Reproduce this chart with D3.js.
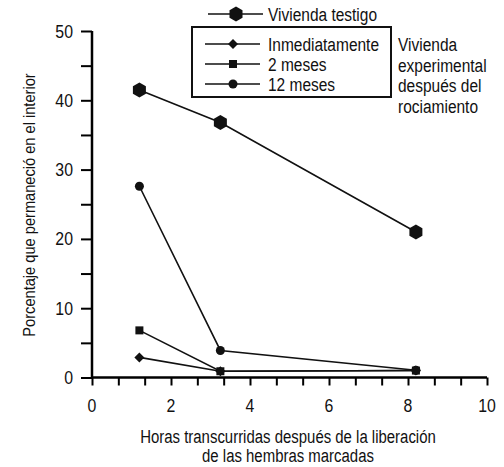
<!DOCTYPE html>
<html>
<head>
<meta charset="utf-8">
<script src="https://cdn.jsdelivr.net/npm/d3@7.9.0/dist/d3.min.js"></script>
<style>
  body { margin: 0; background: #fff; }
  svg text { font-family: "Liberation Sans", Arial, sans-serif; fill: #111; }
</style>
</head>
<body>
<svg id="chart" width="504" height="467"></svg>
<script>
const hours = [1.2, 3.25, 8.2];
const testigo = [41.5, 36.8, 21.0];
const inmediatamente = [2.9, 0.9, 1.0];
const dosMeses = [6.8, 0.9, 1.0];
const doceMeses = [27.6, 3.9, 1.05];

const xTickLabels = [0, 2, 4, 6, 8, 10];
const yTickLabels = [0, 10, 20, 30, 40, 50];

const series = [
  { name: "Vivienda testigo", values: testigo, symbol: "hexagon" },
  { name: "Inmediatamente", values: inmediatamente, symbol: "diamond" },
  { name: "2 meses", values: dosMeses, symbol: "square" },
  { name: "12 meses", values: doceMeses, symbol: "circle" }
];

const svg = d3.select("#chart");
const margin = { left: 92, right: 17, top: 31, bottom: 89.5 };
const width = 504 - margin.left - margin.right;
const height = 467 - margin.top - margin.bottom;
const g = svg.append("g").attr("transform", `translate(${margin.left},${margin.top})`);

const x = d3.scaleLinear().domain([0, 10]).range([0, width]);
const y = d3.scaleLinear().domain([0, 50]).range([height, 0]);

// the original uses a narrow Helvetica, so squeeze each text horizontally
function condense(sel, f) {
  sel.each(function () {
    const w = this.getComputedTextLength();
    d3.select(this).attr("textLength", w * f).attr("lengthAdjust", "spacingAndGlyphs");
  });
}

// x axis: minor ticks every 2/3 h, labels every 2
const xAxis = g.append("g").attr("transform", `translate(0,${height})`)
  .call(d3.axisBottom(x).tickValues(d3.range(0, 10.01, 2 / 3)).tickSize(8).tickFormat(""));
xAxis.select(".domain").attr("stroke-width", 2.5).attr("d", `M0,0H${width}`);
xAxis.selectAll(".tick line").attr("stroke-width", 2);
g.append("g").selectAll("text").data(xTickLabels).join("text")
  .attr("x", d => x(d)).attr("y", height + 34)
  .attr("text-anchor", "middle").attr("font-size", 18).text(d => d)
  .call(condense, 0.88);

const yAxis = g.append("g")
  .call(d3.axisLeft(y).tickValues(d3.range(0, 51, 5)).tickSize(11).tickFormat(""));
yAxis.select(".domain").attr("stroke-width", 2.5).attr("d", `M0,${height}V0`);
yAxis.selectAll(".tick line").attr("stroke-width", 2);
g.append("g").selectAll("text").data(yTickLabels).join("text")
  .attr("x", -19).attr("y", d => y(d) + 6.5)
  .attr("text-anchor", "end").attr("font-size", 18).text(d => d)
  .call(condense, 0.88);

function hexagonPath(r) {
  return d3.range(6).map(i => {
    const a = Math.PI / 6 + i * Math.PI / 3;
    return [r * Math.cos(a), r * Math.sin(a)];
  }).map((p, i) => (i ? "L" : "M") + p[0].toFixed(2) + "," + p[1].toFixed(2)).join("") + "Z";
}

function drawMarker(sel, symbol) {
  if (symbol === "hexagon") sel.append("path").attr("d", hexagonPath(7.5));
  else if (symbol === "diamond") sel.append("path").attr("d", "M0,-5L5,0L0,5L-5,0Z");
  else if (symbol === "square") sel.append("rect").attr("x", -4).attr("y", -4).attr("width", 8).attr("height", 8);
  else sel.append("circle").attr("r", 4.5);
}

const line = d3.line().x(d => x(d[0])).y(d => y(d[1]));

series.forEach(s => {
  const pts = hours.map((h, i) => [h, s.values[i]]);
  g.append("path").datum(pts)
    .attr("fill", "none").attr("stroke", "#111").attr("stroke-width", 1.6)
    .attr("d", line);
  pts.forEach(p => {
    const m = g.append("g").attr("transform", `translate(${x(p[0])},${y(p[1])})`).attr("fill", "#111");
    drawMarker(m, s.symbol);
  });
});

// legend
const legend = svg.append("g");
const legendRows = [
  { s: series[0], y: 14, x0: 208 },
  { s: series[1], y: 44, x0: 205 },
  { s: series[2], y: 64, x0: 205 },
  { s: series[3], y: 84, x0: 205 }
];
legend.append("rect")
  .attr("x", 192).attr("y", 27).attr("width", 199).attr("height", 70)
  .attr("fill", "none").attr("stroke", "#111").attr("stroke-width", 2);
legendRows.forEach(r => {
  legend.append("line").attr("x1", r.x0).attr("x2", r.x0 + 55).attr("y1", r.y).attr("y2", r.y)
    .attr("stroke", "#111").attr("stroke-width", 1.6);
  const m = legend.append("g").attr("transform", `translate(${r.x0 + 28},${r.y})`).attr("fill", "#111");
  drawMarker(m, r.s.symbol);
  legend.append("text").attr("x", 268).attr("y", r.y + 6.5).attr("font-size", 18).text(r.s.name)
    .call(condense, 0.86);
});
const sideText = ["Vivienda", "experimental", "después del", "rociamiento"];
legend.append("g").selectAll("text").data(sideText).join("text")
  .attr("x", 398).attr("y", (d, i) => 51 + i * 20.5).attr("font-size", 18).text(d => d)
  .call(condense, 0.86);

// axis titles
svg.append("text").attr("x", 288).attr("y", 443).attr("text-anchor", "middle").attr("font-size", 18)
  .text("Horas transcurridas después de la liberación").call(condense, 0.83);
svg.append("text").attr("x", 288).attr("y", 462).attr("text-anchor", "middle").attr("font-size", 18)
  .text("de las hembras marcadas").call(condense, 0.83);
svg.append("text").attr("transform", "translate(35,205) rotate(-90)").attr("text-anchor", "middle")
  .attr("font-size", 17).text("Porcentaje que permaneció en el interior").call(condense, 0.86);
</script>
</body>
</html>
